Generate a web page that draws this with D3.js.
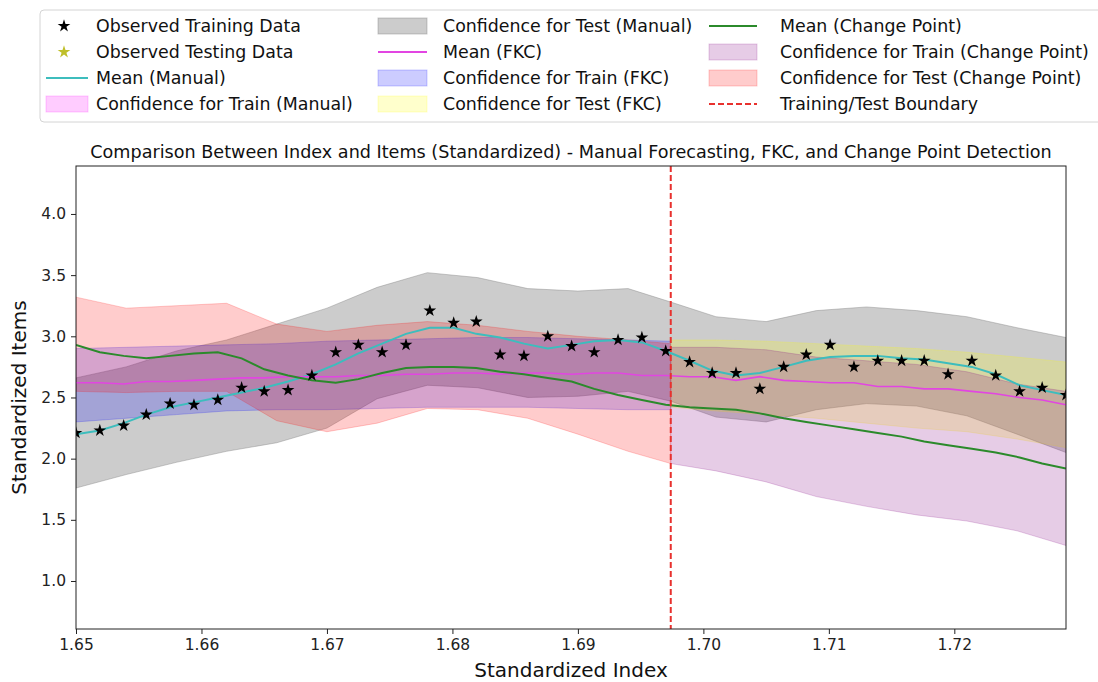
<!DOCTYPE html>
<meta charset="utf-8">
<body style="margin:0; background:#fff">
<!-- Load d3.js -->
<script src="https://d3js.org/d3.v7.min.js"></script>
<div id="my_dataviz"></div>
</body>

<script>

// ---- values ----
// standardized index of every observation (train then test)
const indexX = [1.6500, 1.6519, 1.6538, 1.6556, 1.6575, 1.6594, 1.6613, 1.6632, 1.6650, 1.6669,
  1.6688, 1.6707, 1.6725, 1.6744, 1.6763, 1.6782, 1.6801, 1.6819, 1.6838, 1.6857,
  1.6876, 1.6895, 1.6913, 1.6932, 1.6951, 1.6970, 1.6989, 1.7007, 1.7026, 1.7045,
  1.7064, 1.7082, 1.7101, 1.7120, 1.7139, 1.7158, 1.7176, 1.7195, 1.7214, 1.7233,
  1.7252, 1.7270, 1.7289]

const observedTrain = [2.21, 2.23, 2.27, 2.36, 2.45, 2.44, 2.48, 2.58, 2.55, 2.56,
  2.68, 2.87, 2.93, 2.87, 2.93, 3.21, 3.11, 3.12, 2.85, 2.84,
  3.00, 2.92, 2.87, 2.97, 2.99, 2.88]
const observedTest = [2.79, 2.70, 2.70, 2.57, 2.75, 2.85, 2.93, 2.75, 2.80, 2.80,
  2.80, 2.69, 2.80, 2.68, 2.55, 2.58, 2.52]

const meanManual = [2.20, 2.23, 2.29, 2.36, 2.42, 2.46, 2.50, 2.54, 2.58, 2.63,
  2.69, 2.77, 2.86, 2.94, 3.02, 3.07, 3.07, 3.02, 2.99, 2.94,
  2.90, 2.93, 2.96, 2.97, 2.95, 2.88, 2.80, 2.72, 2.68, 2.70,
  2.75, 2.80, 2.83, 2.84, 2.84, 2.82, 2.81, 2.78, 2.75, 2.69,
  2.60, 2.56, 2.52]
const meanFKC = [2.62, 2.62, 2.61, 2.63, 2.63, 2.64, 2.65, 2.66, 2.66, 2.67,
  2.67, 2.67, 2.68, 2.68, 2.69, 2.69, 2.70, 2.70, 2.69, 2.70,
  2.70, 2.69, 2.70, 2.70, 2.68, 2.68, 2.67, 2.67, 2.64, 2.67,
  2.64, 2.63, 2.62, 2.62, 2.59, 2.59, 2.57, 2.57, 2.55, 2.53,
  2.50, 2.48, 2.44]
const meanCP = [2.93, 2.87, 2.84, 2.82, 2.84, 2.86, 2.87, 2.82, 2.73, 2.68,
  2.64, 2.62, 2.65, 2.70, 2.74, 2.75, 2.75, 2.74, 2.71, 2.69,
  2.66, 2.63, 2.57, 2.52, 2.48, 2.44, 2.42, 2.41, 2.40, 2.37,
  2.33, 2.30, 2.27, 2.24, 2.21, 2.18, 2.14, 2.11, 2.08, 2.05,
  2.01, 1.96, 1.92]

// x positions of the confidence band vertices
const bandTrainX = [1.6500, 1.6540, 1.6580, 1.6620, 1.6660, 1.6700, 1.6740, 1.6780, 1.6820, 1.6860, 1.6900, 1.6940, 1.6974]
const bandTestX = [1.6974, 1.7010, 1.7050, 1.7090, 1.7130, 1.7170, 1.7210, 1.7250, 1.7289]
const bandAllX = bandTrainX.concat(bandTestX.slice(1))

// manual forecasting
const manualTrainLo = [], manualTrainHi = []   // not visible in the picture
const manualTestLo = [1.76, 1.87, 1.97, 2.06, 2.13, 2.25, 2.49, 2.60, 2.58, 2.50, 2.51, 2.55, 2.47,
  2.34, 2.30, 2.40, 2.45, 2.43, 2.35, 2.20, 2.05]
const manualTestHi = [2.66, 2.75, 2.88, 2.97, 3.10, 3.23, 3.40, 3.52, 3.48, 3.39, 3.37, 3.39, 3.28,
  3.16, 3.12, 3.21, 3.24, 3.21, 3.16, 3.07, 2.99]
// FKC
const fkcTrainLo = [2.30, 2.33, 2.36, 2.39, 2.40, 2.40, 2.41, 2.42, 2.42, 2.42, 2.41, 2.40, 2.40]
const fkcTrainHi = [2.90, 2.91, 2.92, 2.93, 2.94, 2.96, 2.97, 2.98, 2.99, 2.99, 2.98, 2.97, 2.96]
const fkcTestLo = [2.42, 2.39, 2.36, 2.33, 2.29, 2.25, 2.22, 2.16, 2.09]
const fkcTestHi = [2.97, 2.97, 2.96, 2.94, 2.92, 2.90, 2.87, 2.83, 2.79]
// change point (the "train" band sits after the boundary, the "test" band before it)
const cpTrainLo = [1.96, 1.90, 1.81, 1.69, 1.61, 1.54, 1.49, 1.41, 1.29]
const cpTrainHi = [2.91, 2.91, 2.89, 2.83, 2.80, 2.77, 2.71, 2.61, 2.55]
const cpTestLo = [2.55, 2.54, 2.55, 2.55, 2.31, 2.22, 2.29, 2.41, 2.40, 2.33, 2.20, 2.06, 1.96]
const cpTestHi = [3.32, 3.23, 3.25, 3.27, 3.10, 3.04, 3.09, 3.12, 3.09, 3.04, 3.00, 2.97, 2.94]

const boundaryX = 1.6974

const xTicks = [1.65, 1.66, 1.67, 1.68, 1.69, 1.70, 1.71, 1.72]
const yTicks = [1.0, 1.5, 2.0, 2.5, 3.0, 3.5, 4.0]

// ---- chart ----
const W = 1098, H = 682
var margin = {top: 166, right: 32, bottom: 53, left: 76},
    width = W - margin.left - margin.right,
    height = H - margin.top - margin.bottom

const svg = d3.select("#my_dataviz")
  .append("svg")
    .attr("width", W)
    .attr("height", H)
    .style("font-family", "DejaVu Sans")

const plot = svg.append("g")
    .attr("transform", "translate(" + margin.left + "," + margin.top + ")")

const x = d3.scaleLinear().domain([1.65, 1.7289]).range([0, width])
const y = d3.scaleLinear().domain([0.6076, 4.392]).range([height, 0])

plot.append("clipPath").attr("id", "clip")
  .append("rect").attr("width", width).attr("height", height)

const area = plot.append("g").attr("clip-path", "url(#clip)")

// confidence bands, in the order they were filled
const fills = [
  {xs: bandTrainX, lo: manualTrainLo, hi: manualTrainHi, color: "rgba(255,0,255,0.2)"},
  {xs: bandAllX, lo: manualTestLo, hi: manualTestHi, color: "rgba(128,128,128,0.4)"},
  {xs: bandTrainX, lo: fkcTrainLo, hi: fkcTrainHi, color: "rgba(0,0,255,0.2)"},
  {xs: bandTestX, lo: fkcTestLo, hi: fkcTestHi, color: "rgba(255,255,0,0.2)"},
  {xs: bandTestX, lo: cpTrainLo, hi: cpTrainHi, color: "rgba(128,0,128,0.2)"},
  {xs: bandTrainX, lo: cpTestLo, hi: cpTestHi, color: "rgba(255,0,0,0.2)"}
]

fills.forEach(function(f) {
  if (!f.lo.length) return
  const band = d3.area()
    .x(function(d, i) { return x(f.xs[i]) })
    .y0(function(d, i) { return y(f.lo[i]) })
    .y1(function(d, i) { return y(f.hi[i]) })
  area.append("path")
    .attr("d", band(f.lo))
    .style("fill", f.color)
    .style("stroke", f.color)
    .style("stroke-width", 1)
})

// mean lines
const means = [
  {values: meanManual, color: "#3dbdbd", w: 2},
  {values: meanFKC, color: "#e245e2", w: 1.6},
  {values: meanCP, color: "#2b8a2b", w: 2}
]
means.forEach(function(m) {
  const line = d3.line()
    .x(function(d, i) { return x(indexX[i]) })
    .y(function(d) { return y(d) })
  area.append("path")
    .attr("d", line(m.values))
    .style("fill", "none")
    .style("stroke", m.color)
    .style("stroke-width", m.w)
})

// boundary
area.append("line")
  .attr("x1", x(boundaryX)).attr("x2", x(boundaryX))
  .attr("y1", 0).attr("y2", height)
  .style("stroke", "#e8312e")
  .style("stroke-width", 2)
  .style("stroke-dasharray", "6,3")

// observed points
const star = d3.symbol().type(d3.symbolStar).size(50)
const trainX = indexX.slice(0, observedTrain.length)
const testX = indexX.slice(observedTrain.length)
area.selectAll(".obsTrain")
  .data(observedTrain)
  .join("path")
    .attr("class", "obsTrain")
    .attr("d", star)
    .attr("transform", function(d, i) { return `translate(${x(trainX[i])},${y(d)})` })
    .style("fill", "#000")
area.selectAll(".obsTest")
  .data(observedTest)
  .join("path")
    .attr("class", "obsTest")
    .attr("d", star)
    .attr("transform", function(d, i) { return `translate(${x(testX[i])},${y(d)})` })
    .style("fill", "#000")

// axes
const xAxis = plot.append("g")
  .attr("transform", `translate(0, ${height})`)
  .call(d3.axisBottom(x).tickValues(xTicks).tickFormat(d3.format(".2f")).tickSize(5).tickPadding(5))
const yAxis = plot.append("g")
  .call(d3.axisLeft(y).tickValues(yTicks).tickFormat(d3.format(".1f")).tickSize(5).tickPadding(5))
;[xAxis, yAxis].forEach(function(a) {
  a.select(".domain").remove()
  a.selectAll("text").style("font-family", "DejaVu Sans").style("font-size", "15.5px").style("fill", "#222")
  a.selectAll("line").style("stroke", "#222")
})

plot.append("rect")
  .attr("width", width).attr("height", height)
  .style("fill", "none")
  .style("stroke", "#222")
  .style("stroke-width", 1)

// titles
svg.append("text")
  .attr("x", margin.left + width / 2).attr("y", 158)
  .attr("text-anchor", "middle")
  .style("font-size", "17.6px")
  .style("fill", "#111")
  .text("Comparison Between Index and Items (Standardized) - Manual Forecasting, FKC, and Change Point Detection")

svg.append("text")
  .attr("x", margin.left + width / 2).attr("y", 677)
  .attr("text-anchor", "middle")
  .style("font-size", "20px")
  .style("fill", "#111")
  .text("Standardized Index")

svg.append("text")
  .attr("transform", `translate(26, ${margin.top + height / 2}) rotate(-90)`)
  .attr("text-anchor", "middle")
  .style("font-size", "20px")
  .style("fill", "#111")
  .text("Standardized Items")

// legend
const legend = svg.append("g")
legend.append("rect")
  .attr("x", 40).attr("y", 10)
  .attr("width", 1090).attr("height", 112)
  .attr("rx", 4)
  .style("fill", "#fff")
  .style("stroke", "#d4d4d4")

const legendItems = [
  {label: "Observed Training Data", kind: "star", color: "#000"},
  {label: "Observed Testing Data", kind: "star", color: "#bfbf2a"},
  {label: "Mean (Manual)", kind: "line", color: "#3dbdbd"},
  {label: "Confidence for Train (Manual)", kind: "patch", color: "rgba(255,0,255,0.2)"},
  {label: "Confidence for Test (Manual)", kind: "patch", color: "rgba(128,128,128,0.4)"},
  {label: "Mean (FKC)", kind: "line", color: "#e245e2"},
  {label: "Confidence for Train (FKC)", kind: "patch", color: "rgba(0,0,255,0.2)"},
  {label: "Confidence for Test (FKC)", kind: "patch", color: "rgba(255,255,0,0.2)"},
  {label: "Mean (Change Point)", kind: "line", color: "#2b8a2b"},
  {label: "Confidence for Train (Change Point)", kind: "patch", color: "rgba(128,0,128,0.2)"},
  {label: "Confidence for Test (Change Point)", kind: "patch", color: "rgba(255,0,0,0.2)"},
  {label: "Training/Test Boundary", kind: "dash", color: "#e8312e"}
]
const colX = [46, 378, 709], rowY = [26, 52, 78, 104]
const handleW = [42, 49, 48], textX = [50, 65, 71]

legendItems.forEach(function(d, k) {
  const c = Math.floor(k / 4)
  const g = legend.append("g").attr("transform", `translate(${colX[c]},${rowY[k % 4]})`)
  if (d.kind === "star") {
    g.append("path").attr("d", d3.symbol().type(d3.symbolStar).size(50))
      .attr("transform", "translate(18,0)").style("fill", d.color)
  } else if (d.kind === "patch") {
    g.append("rect").attr("x", 0).attr("y", -8).attr("width", handleW[c]).attr("height", 16)
      .style("fill", d.color).style("stroke", d.color)
  } else {
    g.append("line").attr("x1", 0).attr("x2", handleW[c]).attr("y1", 0).attr("y2", 0)
      .style("stroke", d.color).style("stroke-width", 2)
      .style("stroke-dasharray", d.kind === "dash" ? "6,3" : null)
  }
  g.append("text")
    .attr("x", textX[c]).attr("y", 0).attr("dy", "0.35em")
    .style("font-size", "17.4px")
    .style("fill", "#111")
    .text(d.label)
})

</script>
